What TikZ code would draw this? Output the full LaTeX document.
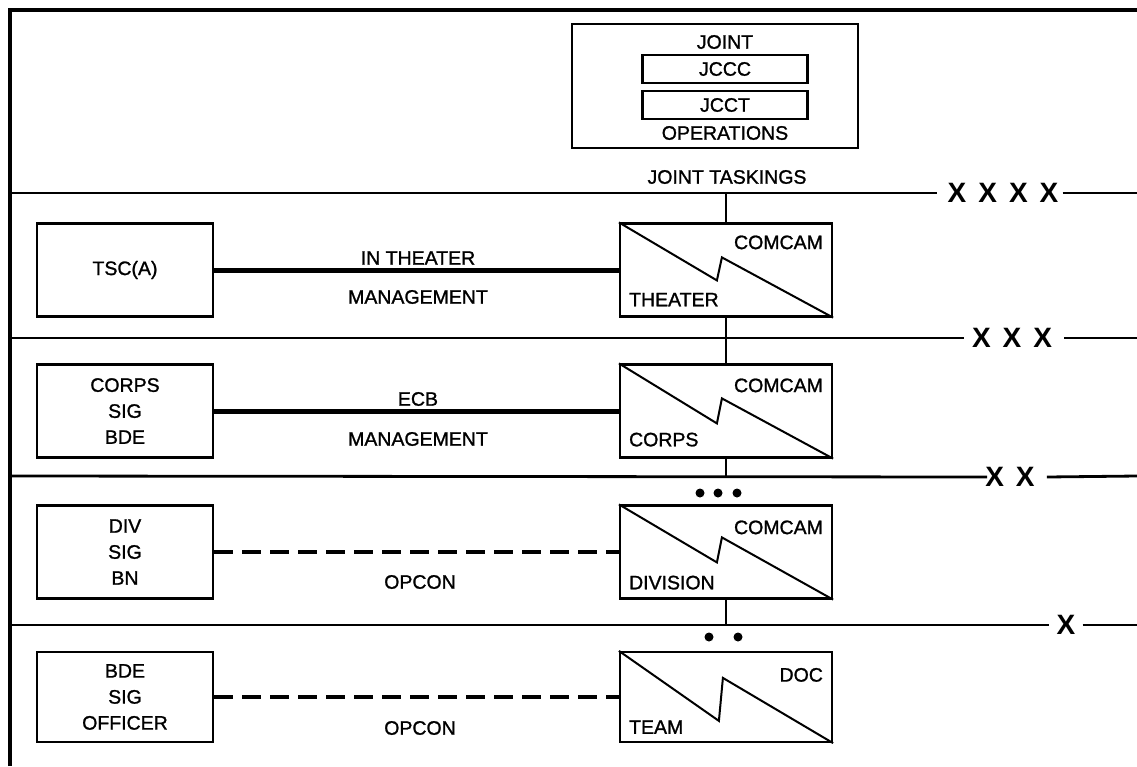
\documentclass[tikz,border=0pt]{standalone}
\usepackage{fontspec}
\setmainfont{Liberation Sans}
\newfontfamily\labfont{Liberation Sans}[FakeBold=1.2]
\usetikzlibrary{calc}
\newcommand\xgap{\hskip12pt}
\begin{document}
\begin{tikzpicture}[x=1pt,y=-1pt,
  txt/.style={font=\labfont\fontsize{19.5}{26}\selectfont, inner sep=0pt, align=center},
  lbox/.style={draw, line width=2.2pt, minimum width=176pt, minimum height=93pt, inner sep=0pt, font=\labfont\fontsize{19.5}{26}\selectfont, align=center},
  cbox/.style={draw, line width=2.2pt, minimum width=212pt, minimum height=93pt, inner sep=0pt},
  ibox/.style={draw, line width=2.2pt, minimum width=165pt, minimum height=28pt, inner sep=0pt, font=\labfont\fontsize{19.5}{23}\selectfont},
  divline/.style={line width=2.8pt},
  frame/.style={line width=4pt},
  strong/.style={line width=5pt},
  weak/.style={line width=3.5pt, dash pattern=on 19pt off 9pt},
  vlink/.style={line width=2.5pt},
  zig/.style={line width=2pt},
  xmark/.style={font=\fontsize{28}{30}\selectfont\bfseries, inner sep=0pt},
  dot/.style={circle, fill, inner sep=0pt, minimum size=9pt}]
\useasboundingbox (0,0) rectangle (1137,766);
% frame
\coordinate (ftl) at (10,10);
\coordinate (ftr) at (1137,10);
\coordinate (fbl) at (10,766);
\draw[frame] (fbl) -- (ftl) -- (ftr);

% joint box
\node[draw, line width=2.2pt, minimum width=286pt, minimum height=124pt, inner sep=0pt] (joint) at (715,86) {};
\node[txt] (jtitle) at (725,42) {JOINT};
\node[ibox] (jccc) at (725,69) {JCCC};
\node[ibox] (jcct) at (725,105) {JCCT};
\node[txt] (jops) at (725,133) {OPERATIONS};
\node[txt] (jtask) at (727,177) {JOINT TASKINGS};

% echelon markers
\node[xmark] (x4) at (1003,193) {X\xgap X\xgap X\xgap X};
\node[xmark] (x3) at (1012,338) {X\xgap X\xgap X};
\node[xmark] (x2) at (1010,477) {X\xgap X};
\node[xmark] (x1) at (1066,625) {X};

% dividing lines
\coordinate (l1a) at (10,193);  \coordinate (l1b) at (1137,193);
\coordinate (l2a) at (10,338);  \coordinate (l2b) at (1137,338);
\coordinate (l3a) at (10,476);  \coordinate (l3b) at (1137,476);
\coordinate (l4a) at (10,625);  \coordinate (l4b) at (1137,625);
\draw[divline] (l1a) -- ([xshift=-10pt]x4.west);
\draw[divline] ([xshift=4pt]x4.east) -- (l1b);
\draw[divline] (l2a) -- ([xshift=-8pt]x3.west);
\draw[divline] ([xshift=12pt]x3.east) -- (l2b);
\draw[divline] (l3a) -- ([xshift=2pt]x2.west);
\draw[divline] ([xshift=12pt]x2.east) -- (l3b);
\draw[divline] (l4a) -- ([xshift=-7pt]x1.west);
\draw[divline] ([xshift=7pt]x1.east) -- (l4b);

% left boxes
\node[lbox] (tsc) at (125,270) {TSC(A)};
\node[lbox] (csb) at (125,411) {CORPS\\SIG\\BDE};
\node[lbox] (dsb) at (125,552) {DIV\\SIG\\BN};
\node[lbox, minimum height=90pt] (bso) at (125,697) {BDE\\SIG\\OFFICER};

% comcam boxes
\node[cbox] (th) at (726,270) {};
\node[cbox] (co) at (726,411) {};
\node[cbox] (dv) at (726,552) {};
\node[cbox, minimum height=90pt] (tm) at (726,697) {};

\draw[zig] (th.north west) -- ($(th.north west)+(98,58)$) -- ($(th.north west)+(103,35)$) -- (th.south east);
\draw[zig] (co.north west) -- ($(co.north west)+(98,60)$) -- ($(co.north west)+(103,35)$) -- (co.south east);
\draw[zig] (dv.north west) -- ($(dv.north west)+(98,58)$) -- ($(dv.north west)+(103,33)$) -- (dv.south east);
\draw[zig] (tm.north west) -- ($(tm.north west)+(100,70)$) -- ($(tm.north west)+(104,27)$) -- (tm.south east);

\node[txt, anchor=east] (thc) at ([xshift=-10pt,yshift=-20pt]th.north east) {COMCAM};
\node[txt, anchor=west] (tht) at ([xshift=10pt,yshift=18pt]th.south west) {THEATER};
\node[txt, anchor=east] (coc) at ([xshift=-10pt,yshift=-22pt]co.north east) {COMCAM};
\node[txt, anchor=west] (cot) at ([xshift=10pt,yshift=19pt]co.south west) {CORPS};
\node[txt, anchor=east] (dvc) at ([xshift=-10pt,yshift=-23pt]dv.north east) {COMCAM};
\node[txt, anchor=west] (dvt) at ([xshift=10pt,yshift=17pt]dv.south west) {DIVISION};
\node[txt, anchor=east] (tmc) at ([xshift=-10pt,yshift=-24pt]tm.north east) {DOC};
\node[txt, anchor=west] (tmt) at ([xshift=10pt,yshift=16pt]tm.south west) {TEAM};

% vertical links
\coordinate (v1) at (726,193);
\coordinate (v3) at (726,476);
\coordinate (v4) at (726,625);
\draw[vlink] (v1) -- (th.north);
\draw[vlink] (th.south) -- (co.north);
\draw[vlink] (co.south) -- (v3);
\draw[vlink] (dv.south) -- (v4);

% dots
\node[dot] (d1) at (700,493) {};
\node[dot] (d2) at (718,493) {};
\node[dot] (d3) at (737,493) {};
\node[dot] (d4) at (709,637) {};
\node[dot] (d5) at (738,637) {};

% horizontal links
\draw[strong] (tsc.east) -- (th.west);
\draw[strong] (csb.east) -- (co.west);
\draw[weak] (dsb.east) -- (dv.west);
\draw[weak] (bso.east) -- (tm.west);

% link labels
\node[txt] (lab1a) at (418,258) {IN THEATER};
\node[txt] (lab1b) at (418,297) {MANAGEMENT};
\node[txt] (lab2a) at (418,399) {ECB};
\node[txt] (lab2b) at (418,439) {MANAGEMENT};
\node[txt] (lab3) at (420,582) {OPCON};
\node[txt] (lab4) at (420,728) {OPCON};
\end{tikzpicture}
\end{document}
